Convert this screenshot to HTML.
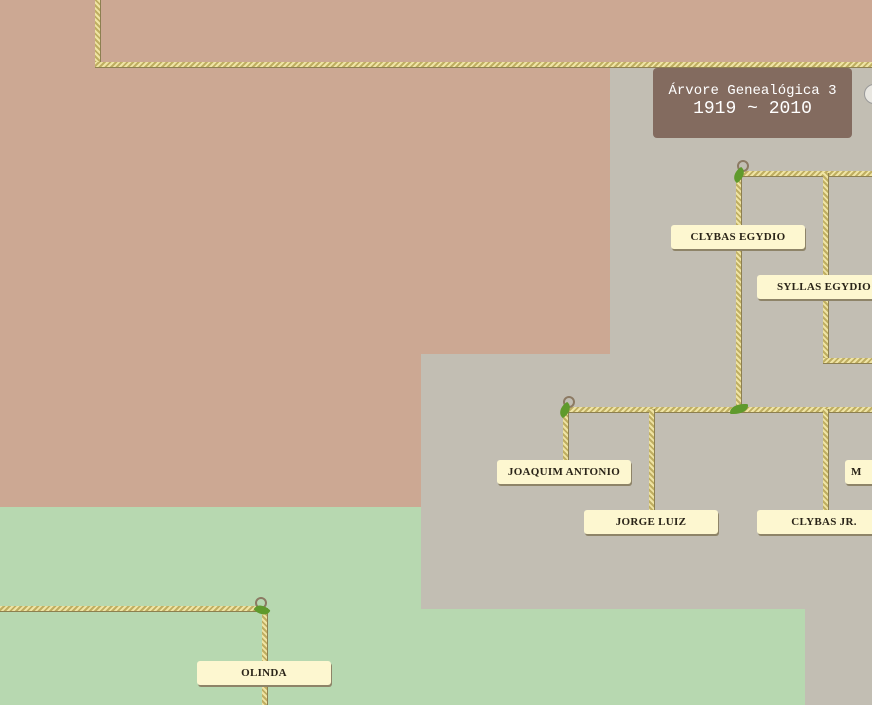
<!DOCTYPE html>
<html><head><style>
body{margin:0;width:872px;height:705px;overflow:hidden;position:relative;background:#c2beb3;font-family:"Liberation Serif",serif}
.r{position:absolute}
.h{position:absolute;height:5px;background:repeating-linear-gradient(135deg,#efe4a4 0 2px,#bfae62 2px 4px);box-shadow:0 1px 0 #8d8050}
.v{position:absolute;width:5px;background:repeating-linear-gradient(45deg,#efe4a4 0 2px,#bfae62 2px 4px);box-shadow:1px 0 0 #8d8050}
.l{position:absolute;height:24px;background:#fdf7d0;box-shadow:1px 2px 0 #8e8468;font-size:11px;font-weight:bold;letter-spacing:.3px;color:#2a2418;text-align:center;line-height:25px;border-radius:3px}
.leaf{position:absolute;width:14px;height:10px;background:#5f9a2c;border-radius:80% 10% 80% 10%}
.c{position:absolute;width:8px;height:8px;border:2px solid #8c7a63;border-radius:50%}
</style></head><body>
<div class="r" style="left:0;top:0;width:872px;height:67px;background:#cca893"></div>
<div class="r" style="left:0;top:0;width:610px;height:354px;background:#cca893"></div>
<div class="r" style="left:0;top:0;width:421px;height:507px;background:#cca893"></div>
<div class="r" style="left:0;top:507px;width:421px;height:198px;background:#b7d8b0"></div>
<div class="r" style="left:0;top:609px;width:805px;height:96px;background:#b7d8b0"></div>

<div class="v" style="left:95px;top:0;height:66px"></div>
<div class="h" style="left:95px;top:62px;width:777px"></div>

<div class="r" style="left:653px;top:68px;width:199px;height:70px;background:#836b5f;border-radius:4px;color:#fff;text-align:center;font-family:'Liberation Mono',monospace">
<div style="font-size:14px;margin-top:15px">Árvore Genealógica 3</div>
<div style="font-size:18px;line-height:20px">1919 ~ 2010</div></div>
<div class="r" style="left:864px;top:84px;width:18px;height:18px;border-radius:50%;background:#e8e6e0;border:1px solid #999"></div>

<div class="h" style="left:738px;top:171px;width:134px"></div>
<div class="v" style="left:736px;top:173px;height:236px"></div>
<div class="v" style="left:823px;top:173px;height:188px"></div>
<div class="h" style="left:823px;top:358px;width:49px"></div>
<div class="h" style="left:563px;top:407px;width:309px"></div>
<div class="v" style="left:563px;top:409px;height:52px"></div>
<div class="v" style="left:649px;top:409px;height:102px"></div>
<div class="v" style="left:823px;top:409px;height:102px"></div>
<div class="h" style="left:0;top:606px;width:264px"></div>
<div class="v" style="left:262px;top:608px;height:97px"></div>

<div class="c" style="left:737px;top:160px"></div><div class="leaf" style="left:732px;top:170px;transform:rotate(-40deg)"></div>
<div class="c" style="left:563px;top:396px"></div><div class="leaf" style="left:558px;top:405px;transform:rotate(-40deg)"></div>
<div class="leaf" style="left:730px;top:404px;width:18px"></div>
<div class="c" style="left:255px;top:597px"></div><div class="leaf" style="left:255px;top:605px;transform:rotate(40deg)"></div>

<div class="l" style="left:671px;top:225px;width:134px">CLYBAS EGYDIO</div>
<div class="l" style="left:757px;top:275px;width:134px">SYLLAS EGYDIO</div>
<div class="l" style="left:497px;top:460px;width:134px">JOAQUIM ANTONIO</div>
<div class="l" style="left:584px;top:510px;width:134px">JORGE LUIZ</div>
<div class="l" style="left:757px;top:510px;width:134px">CLYBAS JR.</div>
<div class="l" style="left:845px;top:460px;width:134px;text-align:left;padding-left:6px">M</div>
<div class="l" style="left:197px;top:661px;width:134px">OLINDA</div>
</body></html>
